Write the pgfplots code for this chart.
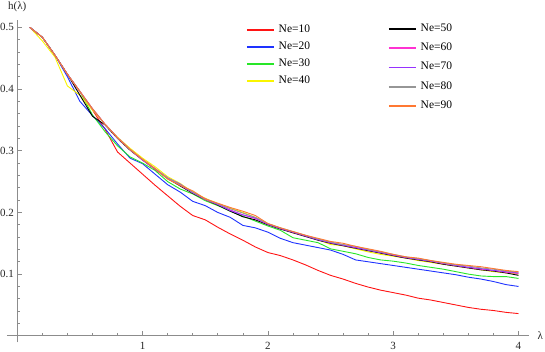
\documentclass[border=0pt]{standalone}
\usepackage{fontspec}
\setmainfont{Liberation Serif}
\newfontfamily\tfont{Liberation Serif}
\usepackage{pgfplots}
\usepackage{pgfplotstable}
\pgfplotsset{compat=1.18}
\usetikzlibrary{calc}

\definecolor{axisgray}{RGB}{140,140,140}
\definecolor{cten}{RGB}{255,20,20}
\definecolor{ctwenty}{RGB}{30,50,255}
\definecolor{cthirty}{RGB}{40,230,40}
\definecolor{cforty}{RGB}{250,245,0}
\definecolor{cfifty}{RGB}{0,0,0}
\definecolor{csixty}{RGB}{255,50,210}
\definecolor{cseventy}{RGB}{150,50,255}
\definecolor{ceighty}{RGB}{150,150,150}
\definecolor{cninety}{RGB}{255,120,50}

\pgfplotstableread{
lam n10 n20 n30 n40 n50 n60 n70 n80 n90
0.1 0.500 0.500 0.500 0.500 0.500 0.500 0.500 0.500 0.500
0.2 0.484 0.484 0.484 0.478 0.484 0.484 0.484 0.484 0.484
0.3 0.455 0.455 0.455 0.452 0.455 0.455 0.455 0.455 0.455
0.4 0.424 0.420 0.424 0.405 0.424 0.424 0.424 0.424 0.424
0.5 0.396 0.380 0.396 0.390 0.390 0.396 0.396 0.396 0.396
0.6 0.366 0.357 0.358 0.366 0.356 0.368 0.368 0.368 0.368
0.7 0.335 0.336 0.331 0.343 0.342 0.343 0.343 0.343 0.343
0.8 0.298 0.311 0.308 0.322 0.320 0.321 0.321 0.321 0.321
0.9 0.280 0.288 0.290 0.304 0.301 0.302 0.302 0.302 0.302
1.0 0.262 0.279 0.280 0.288 0.285 0.285 0.285 0.286 0.286
1.1 0.244 0.262 0.268 0.274 0.270 0.270 0.271 0.271 0.271
1.2 0.227 0.245 0.250 0.258 0.255 0.255 0.256 0.256 0.254
1.3 0.210 0.233 0.238 0.247 0.243 0.244 0.246 0.245 0.244
1.4 0.195 0.218 0.230 0.233 0.231 0.232 0.232 0.233 0.235
1.5 0.188 0.211 0.219 0.223 0.221 0.221 0.222 0.222 0.222
1.6 0.176 0.200 0.211 0.214 0.212 0.213 0.213 0.214 0.215
1.7 0.165 0.192 0.202 0.207 0.202 0.204 0.203 0.206 0.208
1.8 0.155 0.179 0.194 0.200 0.193 0.196 0.196 0.199 0.202
1.9 0.144 0.175 0.186 0.192 0.188 0.190 0.191 0.192 0.195
2.0 0.135 0.168 0.178 0.181 0.180 0.181 0.181 0.182 0.182
2.1 0.130 0.158 0.171 0.175 0.173 0.174 0.174 0.175 0.175
2.2 0.123 0.151 0.159 0.167 0.167 0.168 0.168 0.169 0.169
2.3 0.115 0.147 0.155 0.162 0.161 0.162 0.162 0.163 0.163
2.4 0.106 0.143 0.151 0.156 0.155 0.156 0.156 0.157 0.158
2.5 0.098 0.139 0.141 0.148 0.150 0.151 0.151 0.152 0.153
2.6 0.092 0.132 0.137 0.146 0.146 0.147 0.147 0.148 0.150
2.7 0.085 0.123 0.133 0.141 0.142 0.143 0.143 0.145 0.145
2.8 0.079 0.120 0.127 0.136 0.138 0.139 0.139 0.140 0.141
2.9 0.074 0.117 0.123 0.132 0.134 0.135 0.135 0.136 0.137
3.0 0.070 0.114 0.121 0.129 0.130 0.131 0.131 0.132 0.132
3.1 0.066 0.111 0.118 0.126 0.126 0.127 0.127 0.128 0.128
3.2 0.061 0.108 0.114 0.122 0.123 0.124 0.124 0.125 0.126
3.3 0.058 0.105 0.111 0.119 0.120 0.121 0.121 0.122 0.122
3.4 0.054 0.102 0.108 0.116 0.116 0.117 0.118 0.118 0.119
3.5 0.050 0.099 0.104 0.113 0.113 0.114 0.114 0.115 0.116
3.6 0.046 0.095 0.100 0.110 0.110 0.111 0.111 0.113 0.114
3.7 0.043 0.092 0.097 0.107 0.107 0.108 0.109 0.110 0.112
3.8 0.041 0.088 0.096 0.104 0.105 0.106 0.106 0.108 0.109
3.9 0.038 0.083 0.096 0.102 0.102 0.103 0.104 0.105 0.106
4.0 0.036 0.080 0.093 0.100 0.098 0.101 0.102 0.103 0.104
}\hdata

\pgfplotsset{
  frame/.style={
    scale only axis, width=511.2pt, height=315.8pt,
    xmin=0, xmax=4.08, ymin=0, ymax=0.512,
  },
  legbox/.style={
    legend cell align=left,
    legend style={draw=none, fill=none, inner sep=0pt, row sep=#1,
      font=\tfont\fontsize{11.5}{12}\selectfont,
      nodes={inner sep=0pt, text height=8pt, text depth=2pt},
      /tikz/every odd column/.append style={column sep=3.5pt}},
    legend image code/.code={\draw[##1, line width=1.7pt] (0pt,-0.5pt) -- (27.6pt,-0.5pt);},
  },
}

\begin{document}
\begin{tikzpicture}
\begin{axis}[name=main, frame,
    axis lines*=left,
    axis line style={draw=axisgray, line width=0.6pt},
    x axis line style={shorten <=-10.3pt},
    y axis line style={shorten <=-6.5pt},
    tick style={draw=axisgray, line width=0.6pt},
    tick align=inside,
    major tick length=4.5pt, minor tick length=2.5pt,
    tick label style={font=\tfont\fontsize{11}{12}\selectfont, text=black!85},
    xticklabel style={yshift=-3pt},
    xtick={1,2,3,4}, xticklabels={1,2,3,4},
    ytick={0.1,0.2,0.3,0.4,0.5}, yticklabels={0.1,0.2,0.3,0.4,0.5},
    minor xtick={0.2,0.4,0.6,0.8,1.2,1.4,1.6,1.8,2.2,2.4,2.6,2.8,3.2,3.4,3.6,3.8},
    minor ytick={0.02,0.04,0.06,0.08,0.12,0.14,0.16,0.18,0.22,0.24,0.26,0.28,0.32,0.34,0.36,0.38,0.42,0.44,0.46,0.48},
    xlabel={λ}, ylabel={h(λ)},
    every axis x label/.style={at={(axis description cs:1,0)}, anchor=west,
      xshift=9pt, inner sep=0pt, font=\tfont\fontsize{11}{12}\selectfont, text=black!85},
    every axis y label/.style={at={(axis description cs:0,1)}, anchor=south,
      yshift=8pt, inner sep=0pt, font=\tfont\fontsize{11}{12}\selectfont, text=black!85},
    legbox=7pt,
    legend style={at={(axis description cs:0.4468,0.9873)}, anchor=north west},
  ]
  \addplot[cten, line width=0.9pt] table[x=lam, y=n10] {\hdata};
  \addlegendentry{Ne=10}
  \addplot[ctwenty, line width=0.9pt] table[x=lam, y=n20] {\hdata};
  \addlegendentry{Ne=20}
  \addplot[cthirty, line width=0.9pt] table[x=lam, y=n30] {\hdata};
  \addlegendentry{Ne=30}
  \addplot[cforty, line width=0.9pt] table[x=lam, y=n40] {\hdata};
  \addlegendentry{Ne=40}
  \addplot[cfifty, line width=0.9pt] table[x=lam, y=n50] {\hdata};
  \addplot[csixty, line width=0.9pt] table[x=lam, y=n60] {\hdata};
  \addplot[cseventy, line width=0.9pt] table[x=lam, y=n70] {\hdata};
  \addplot[ceighty, line width=0.9pt] table[x=lam, y=n80] {\hdata};
  \addplot[cninety, line width=0.9pt] table[x=lam, y=n90] {\hdata};
\end{axis}
\begin{axis}[frame, hide axis,
    legbox=9.4pt,
    legend style={at={(axis description cs:0.7246,0.9905)}, anchor=north west},
  ]
  \addlegendimage{cfifty}\addlegendentry{Ne=50}
  \addlegendimage{csixty}\addlegendentry{Ne=60}
  \addlegendimage{cseventy}\addlegendentry{Ne=70}
  \addlegendimage{ceighty}\addlegendentry{Ne=80}
  \addlegendimage{cninety}\addlegendentry{Ne=90}
\end{axis}
\pgfresetboundingbox
\path[use as bounding box] ($(main.south west)+(-17.3pt,-16.2pt)$) rectangle ($(main.north east)+(16.5pt,20pt)$);
\end{tikzpicture}
\end{document}
